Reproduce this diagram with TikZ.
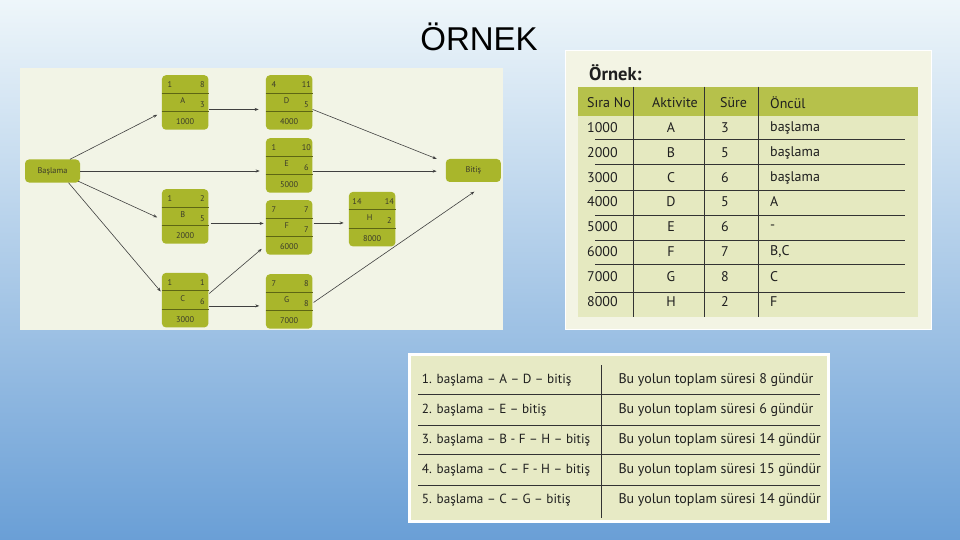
\documentclass[tikz,border=0pt]{standalone}
\usepackage{fontspec}
\setmainfont{PT Sans}
\newfontfamily\titlefont{Liberation Sans}
\usetikzlibrary{arrows.meta}

\definecolor{nodegreen}{HTML}{A9B62B}
\definecolor{divline}{HTML}{5E6614}
\definecolor{netbg}{HTML}{F2F4E6}
\definecolor{txtdark}{HTML}{3A3A2A}
\definecolor{hdrgreen}{HTML}{B6C14B}
\definecolor{tblbody}{HTML}{E5E9C0}
\definecolor{panelbg}{HTML}{F3F4E4}
\definecolor{bpanel}{HTML}{E7EAC5}
\definecolor{bgtop}{HTML}{EEF6FA}
\definecolor{bgbot}{HTML}{6A9FD6}

\tikzset{
  actbox/.style={fill=nodegreen, rounded corners=4pt, minimum width=46.5pt, minimum height=54.5pt, inner sep=0pt, anchor=north west},
  endbox/.style={fill=nodegreen, rounded corners=4pt, minimum width=55pt, minimum height=23pt, inner sep=0pt, font=\fontsize{8.3}{9}\selectfont, text=txtdark},
  ntxt/.style={font=\fontsize{8.3}{9}\selectfont, text=txtdark, inner sep=0pt},
  arr/.style={draw=black!75, line width=0.6pt, -{Stealth[length=4pt,width=3pt]}},
  divl/.style={draw=divline, line width=0.9pt},
  ttxt/.style={font=\fontsize{14}{16}\selectfont, text=black!88, inner sep=0pt},
  ltxt/.style={font=\fontsize{13.2}{15}\selectfont, text=black!88, inner sep=0pt},
  tline/.style={draw=black!80, line width=1pt},
}

\newcommand\actnode[8]{%
  \node[actbox] (#1) at (#2,#3) {};
  \draw[divl] ([shift={(0,18)}]#1.north west) -- ([shift={(0,18)}]#1.north east);
  \draw[divl] ([shift={(0,36.5)}]#1.north west) -- ([shift={(0,36.5)}]#1.north east);
  \node[ntxt] (#1-es) at ([shift={(8.3,10)}]#1.north west) {#4};
  \node[ntxt] (#1-ef) at ([shift={(40.6,10)}]#1.north west) {#5};
  \node[ntxt] (#1-lb) at ([shift={(21,25.7)}]#1.north west) {#6};
  \node[ntxt] (#1-du) at ([shift={(40.6,29.3)}]#1.north west) {#7};
  \node[ntxt] (#1-sn) at ([shift={(23.5,46.5)}]#1.north west) {#8};
}

\begin{document}
\begin{tikzpicture}[x=1pt,y=-1pt]
\useasboundingbox (0,0) rectangle (960,540);
\shade[top color=bgtop, bottom color=bgbot] (0,0) rectangle (960,540);

% title
\node[font=\titlefont\fontsize{33}{36}\selectfont, anchor=base, text=black] (title) at (479,51) {ÖRNEK};

% network panel
\fill[netbg] (20,68) rectangle (503,330);

\actnode{A}{161.7}{75}{1}{8}{A}{3}{1000}
\actnode{D}{265.7}{75}{4}{11}{D}{5}{4000}
\actnode{E}{265.7}{138}{1}{10}{E}{6}{5000}
\actnode{B}{161.7}{189}{1}{2}{B}{5}{2000}
\actnode{C}{161.7}{272.7}{1}{1}{C}{6}{3000}
\actnode{F}{265.7}{200}{7}{7}{F}{7}{6000}
\actnode{H}{348.7}{191.7}{14}{14}{H}{2}{8000}
\actnode{G}{265.7}{274}{7}{8}{G}{8}{7000}

\node[endbox] (Bas) at (52.5,171) {Başlama};
\node[endbox] (Bit) at (473.3,170.5) {Bitiş};

\draw[arr, shorten >=5pt] ([shift={(17.5,0)}]Bas.north) -- ([shift={(0,10)}]A.west);
\draw[arr, shorten >=6pt] (Bas.east) -- (Bas.east -| E.west);
\draw[arr, shorten >=5pt] ([shift={(-2,-1.5)}]Bas.south east) -- ([shift={(0,3)}]B.west);
\draw[arr, shorten >=1.5pt] ([shift={(16,0)}]Bas.south) -- ([shift={(0,-7.5)}]C.west);
\draw[arr, shorten >=7pt] ([shift={(0,7)}]A.east) -- ([shift={(0,7)}]A.east -| D.west);
\draw[arr] ([shift={(0,7)}]D.east) -- ([shift={(-9,0)}]Bit.north west);
\draw[arr, shorten >=9pt] ([shift={(0,5.75)}]E.east) -- ([shift={(0,5.75)}]E.east -| Bit.west);
\draw[arr, shorten >=4pt] ([shift={(2,7)}]B.east) -- ([shift={(2,7)}]B.east -| F.west);
\draw[arr] ([shift={(0.6,-6.6)}]C.east) -- ([shift={(-4,-6)}]F.south west);
\draw[arr, shorten >=6.4pt] ([shift={(0,5.75)}]C.east) -- ([shift={(0,5.75)}]C.east -| G.west);
\draw[arr, shorten >=6pt] ([shift={(1,-4.5)}]F.east) -- ([shift={(1,-4.5)}]F.east -| H.west);
\draw[arr] ([shift={(1,1)}]G.east) -- ([shift={(1,9.5)}]Bit.south);

% right table panel
\filldraw[fill=panelbg, draw=white, line width=1.5pt] (565.5,50.5) rectangle (931.5,329.5);
\node[anchor=west, font=\bfseries\fontsize{18.5}{20}\selectfont, text=black!88, inner sep=0pt] (ornek) at (589,73) {Örnek:};
\fill[hdrgreen] (578,86.7) rectangle (918,116);
\fill[tblbody] (578,116) rectangle (918,316.7);
\foreach \xx in {633.3,704.3,758.3} \draw[tline] (\xx,86.7) -- (\xx,316.7);
\foreach \yy in {140,165,190.5,215,240,264.5,292} \draw[tline] (595,\yy) -- (905,\yy);

\node[ttxt, anchor=west] (h1) at (587,102.5) {Sıra No};
\node[ttxt] (h2) at (675,102.5) {Aktivite};
\node[ttxt, anchor=west] (h3) at (720,102.5) {Süre};
\node[ttxt, anchor=west] (h4) at (770,102.5) {Öncül};

\foreach \yy/\sn/\ak/\su/\on [count=\i] in {128/1000/A/3/başlama, 153/2000/B/5/başlama, 178/3000/C/6/başlama, 202/4000/D/5/A, 227/5000/E/6/-, 252/6000/F/7/{B,C}, 276.5/7000/G/8/C, 302/8000/H/2/F}{
  \node[ttxt, anchor=west] (r\i-sn) at (587,\yy) {\sn};
  \node[ttxt] (r\i-ak) at (671,\yy) {\ak};
  \node[ttxt] (r\i-su) at (725,\yy) {\su};
  \node[ttxt, anchor=west] (r\i-on) at (770,\yy) {\on};
}

% bottom panel
\filldraw[fill=bpanel, draw=white, line width=3pt] (409.5,354.5) rectangle (828.5,521.5);
\draw[tline] (601,365) -- (601,518);
\foreach \yy in {394.3,425,454.3,485} \draw[tline] (418,\yy) -- (820,\yy);

\foreach \yy/\lt/\rt [count=\i] in {
  380/{1. başlama – A – D – bitiş}/{Bu yolun toplam süresi 8 gündür},
  410/{2. başlama – E – bitiş}/{Bu yolun toplam süresi 6 gündür},
  440/{3. başlama – B - F – H – bitiş}/{Bu yolun toplam süresi 14 gündür},
  470/{4. başlama – C – F - H – bitiş}/{Bu yolun toplam süresi 15 gündür},
  500/{5. başlama – C – G – bitiş}/{Bu yolun toplam süresi 14 gündür}}{
  \node[ltxt, anchor=west] (p\i-l) at (421.7,\yy) {\lt};
  \node[ttxt, anchor=west] (p\i-r) at (618.3,\yy) {\rt};
}
\end{tikzpicture}
\end{document}
